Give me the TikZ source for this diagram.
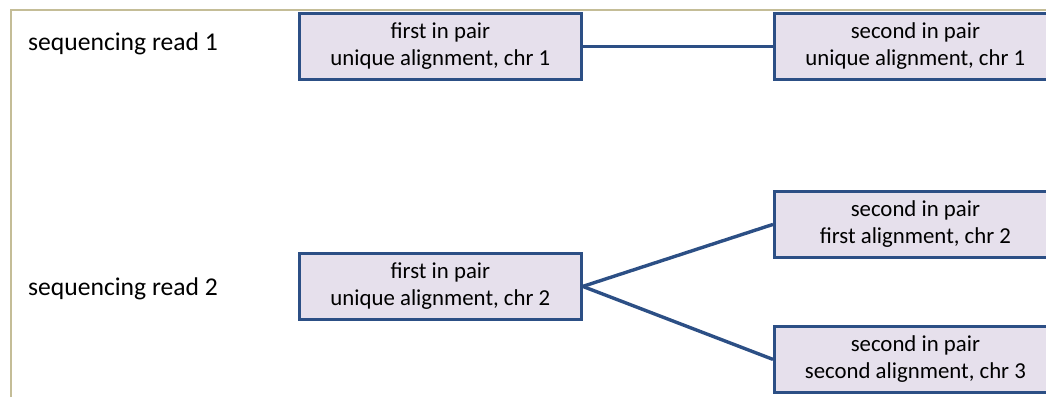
\documentclass[tikz,border=0pt]{standalone}
\usepackage{fontspec}
\setmainfont{Carlito}
\definecolor{boxfill}{HTML}{E6E0EC}
\definecolor{boxdraw}{HTML}{2C4F85}
\definecolor{frame}{HTML}{C4BD97}
\begin{document}
\begin{tikzpicture}[x=1pt,y=-1pt,
  box/.style={draw=boxdraw,fill=boxfill,line width=2.8pt,minimum width=282pt,minimum height=66pt,
    align=center,inner sep=0pt,font=\fontsize{22.8}{27}\selectfont,anchor=north west},
  conn/.style={draw=boxdraw,line width=3.4pt},
  lbl/.style={anchor=west,inner sep=0pt,font=\fontsize{25.6}{28}\selectfont}]
\useasboundingbox (0,0) rectangle (1046,397);
\clip (0,0) rectangle (1046,397);
\draw[frame,line width=2pt] (11,397) -- (11,10) -- (1050,10);
\node[lbl] (r1) at (28,44) {sequencing read 1};
\node[lbl] (r2) at (28,289) {sequencing read 2};
\node[box] (a) at (298,12) {first in pair\\unique alignment, chr 1};
\node[box] (b) at (773,12) {second in pair\\unique alignment, chr 1};
\node[box] (c) at (298,252) {first in pair\\unique alignment, chr 2};
\node[box] (d) at (773,190) {second in pair\\first alignment, chr 2};
\node[box] (e) at (773,325) {second in pair\\second alignment, chr 3};
\draw[conn] (a.east) -- (b.west);
\draw[conn] (c.east) -- (d.west);
\draw[conn] (c.east) -- (e.west);
\end{tikzpicture}
\end{document}
